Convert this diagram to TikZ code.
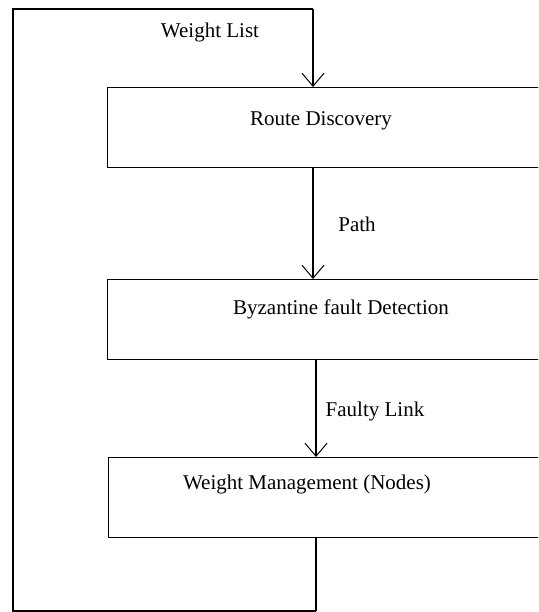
\documentclass[tikz,border=0pt]{standalone}
\usepackage{fontspec}
\setmainfont{Liberation Serif}
\usetikzlibrary{arrows.meta}
\tikzset{
  blockbox/.style={draw, line width=1.2pt, minimum width=453pt, minimum height=80pt, inner sep=0pt, anchor=north west},
  lbl/.style={font=\fontsize{21}{25}\selectfont, inner sep=0pt},
  flow/.style={line width=1.2pt, -{Straight Barb[length=13pt,width=22pt,line width=1pt]}},
  wire/.style={line width=1.2pt}
}
\begin{document}
\begin{tikzpicture}[x=1pt,y=-1pt]
\useasboundingbox (0,0) rectangle (538,612);
\clip (0,0) rectangle (538,612);
\node[blockbox] (b1) at (107,87) {};
\node[blockbox] (b2) at (107,279) {};
\node[blockbox] (b3) at (108,457) {};
\node[lbl] (t1) at (321,121) {Route Discovery};
\node[lbl] (t2) at (341,309) {Byzantine fault Detection};
\node[lbl] (t3) at (307,484) {Weight Management (Nodes)};
\node[lbl] (lw) at (210,32) {Weight List};
\node[lbl] (lp) at (357,224) {Path};
\node[lbl] (lf) at (375,411) {Faulty Link};
\coordinate (cx) at (313,0);
\coordinate (cx3) at (316,0);
\coordinate (tl) at (13,9);
\coordinate (bl) at (13,611);
\coordinate (tr) at (313,9);
\coordinate (br) at (316,611);
\draw[wire] (br) -- (bl) -- (tl) -- (tr);
\draw[flow] (tr) -- (b1.north -| cx);
\draw[flow] (b1.south -| cx) -- (b2.north -| cx);
\draw[flow] (b2.south -| cx3) -- (b3.north -| cx3);
\draw[wire] (b3.south -| cx3) -- (br);
\end{tikzpicture}
\end{document}
